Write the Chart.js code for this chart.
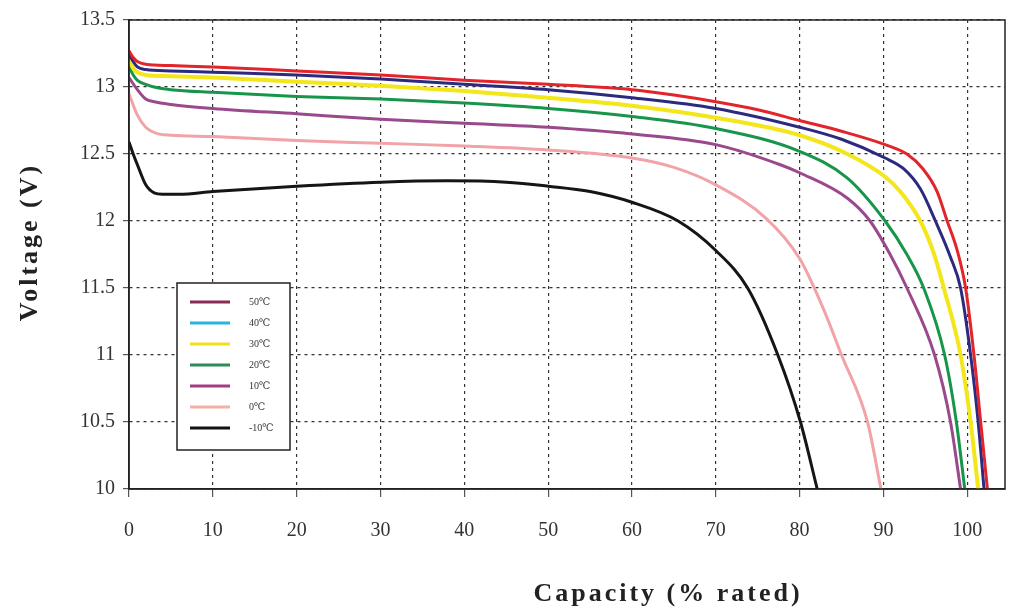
<!DOCTYPE html>
<html>
<head>
<meta charset="utf-8">
<script src="https://cdn.jsdelivr.net/npm/chart.js@4.4.0/dist/chart.umd.min.js"></script>
<style>
  html, body { margin: 0; padding: 0; background: #fff; }
  #wrap { width: 1014px; height: 615px; }
</style>
</head>
<body>
<div id="wrap"><canvas id="myChart"></canvas></div>
<script>
// series labels (legend order)
var labels = ["50℃", "40℃", "30℃", "20℃", "10℃", "0℃", "-10℃"];

// capacity (% rated) / voltage (V)
var cap50 = [0, 0.5, 1, 2, 5, 10, 20, 30, 40, 50, 60, 65, 70, 75, 80, 85, 90.2, 92.8, 94.7, 96.4, 97.6, 98.8, 99.8, 100.8, 101.6, 102.4];
var volt50 = [13.27, 13.22, 13.19, 13.17, 13.16, 13.15, 13.12, 13.09, 13.05, 13.02, 12.98, 12.94, 12.89, 12.83, 12.75, 12.67, 12.57, 12.5, 12.39, 12.22, 12.0, 11.78, 11.5, 11.0, 10.5, 10.0];

var cap40 = [0, 0.5, 1, 2, 5, 10, 20, 30, 40, 50, 60, 70, 80, 85, 90.2, 92.4, 94.4, 96.2, 98, 99.2, 100.4, 101.3, 102];
var volt40 = [13.25, 13.19, 13.15, 13.13, 13.12, 13.11, 13.09, 13.06, 13.02, 12.98, 12.92, 12.84, 12.70, 12.61, 12.47, 12.39, 12.24, 12.0, 11.73, 11.5, 11.0, 10.5, 10.0];

var cap30 = [0, 0.5, 1, 2, 5, 10, 20, 30, 40, 50, 60, 70, 80, 85.7, 90.2, 92, 94.4, 96, 97.2, 99.2, 100.4, 101.3];
var volt30 = [13.2, 13.14, 13.11, 13.09, 13.08, 13.07, 13.04, 13.01, 12.97, 12.92, 12.86, 12.77, 12.64, 12.5, 12.33, 12.22, 12.0, 11.76, 11.5, 11.0, 10.5, 10.0];

var cap20 = [0, 0.5, 1, 2, 3, 5, 10, 20, 30, 40, 50, 60, 70, 80, 85.7, 90.2, 92.8, 94.8, 97.3, 98.7, 99.7];
var volt20 = [13.15, 13.09, 13.05, 13.02, 13.0, 12.98, 12.96, 12.93, 12.91, 12.88, 12.84, 12.78, 12.69, 12.52, 12.32, 12.0, 11.75, 11.5, 11.0, 10.5, 10.0];

var cap10 = [0, 1, 2, 3, 5, 10, 20, 30, 40, 50, 60, 70, 77.7, 80, 85.7, 88.4, 90.8, 92.8, 96.1, 98, 99.2];
var volt10 = [13.07, 12.98, 12.91, 12.89, 12.87, 12.84, 12.80, 12.76, 12.73, 12.70, 12.65, 12.57, 12.42, 12.36, 12.17, 12.0, 11.75, 11.5, 11.0, 10.5, 10.0];

var cap0 = [0, 1, 2, 3.5, 5, 10, 20, 30, 40, 50, 60, 65, 70, 76, 80, 82.8, 85.0, 88.1, 89.7];
var volt0 = [12.95, 12.79, 12.70, 12.65, 12.64, 12.63, 12.60, 12.58, 12.56, 12.53, 12.47, 12.40, 12.27, 12.02, 11.72, 11.35, 11.0, 10.5, 10.0];

var capM10 = [0, 0.5, 1, 2, 3, 4, 6, 10, 20, 30, 38, 45, 50, 55, 60, 65.5, 70, 73.8, 77.4, 80.1, 82.1];
var voltM10 = [12.59, 12.5, 12.42, 12.27, 12.21, 12.2, 12.2, 12.22, 12.26, 12.29, 12.30, 12.29, 12.26, 12.22, 12.14, 12.0, 11.78, 11.5, 11.0, 10.5, 10.0];

// axis ticks
var xTicks = [0, 10, 20, 30, 40, 50, 60, 70, 80, 90, 100];
var yTicks = [10, 10.5, 11, 11.5, 12, 12.5, 13, 13.5];

var caps = [cap50, cap40, cap30, cap20, cap10, cap0, capM10];
var volts = [volt50, volt40, volt30, volt20, volt10, volt0, voltM10];
var lineColors = ["#e2252b", "#2c2a7e", "#f3e61a", "#17964b", "#9a4a8c", "#f1a3a7", "#151515"];
var legendColors = ["#8a2a55", "#2ab3e0", "#f0e01a", "#2f8a5c", "#a33c86", "#f3b0a8", "#111111"];
var lineWidths = [3, 3, 4, 3, 3, 3, 3];

var datasets = labels.map(function (lab, i) {
  return {
    label: lab,
    data: caps[i].map(function (c, j) { return { x: c, y: volts[i][j] }; }),
    borderColor: lineColors[i],
    backgroundColor: lineColors[i],
    borderWidth: lineWidths[i],
    pointRadius: 0,
    cubicInterpolationMode: 'monotone',
    fill: false
  };
});

var serif = "'Liberation Serif', 'DejaVu Serif', serif";

var framePlugin = {
  id: 'frame',
  afterDraw: function (chart) {
    var ctx = chart.ctx, a = chart.chartArea;
    ctx.save();
    // plot border
    ctx.strokeStyle = '#222';
    ctx.lineWidth = 1.5;
    ctx.strokeRect(a.left, a.top, a.right - a.left, a.bottom - a.top);

    // legend box inside the plot
    var bx = 177, by = 283, bw = 113, bh = 167;
    ctx.fillStyle = '#fff';
    ctx.fillRect(bx, by, bw, bh);
    ctx.strokeStyle = '#222';
    ctx.lineWidth = 1.5;
    ctx.strokeRect(bx, by, bw, bh);
    ctx.font = "10px " + serif;
    ctx.textBaseline = 'middle';
    for (var i = 0; i < labels.length; i++) {
      var yy = by + 19 + i * 21;
      ctx.strokeStyle = legendColors[i];
      ctx.lineWidth = 3;
      ctx.beginPath();
      ctx.moveTo(bx + 13, yy);
      ctx.lineTo(bx + 53, yy);
      ctx.stroke();
      ctx.fillStyle = '#333';
      ctx.fillText(labels[i], bx + 72, yy);
    }

    // axis titles
    ctx.fillStyle = '#222';
    ctx.font = "bold 26px " + serif;
    ctx.letterSpacing = '3px';
    ctx.textAlign = 'center';
    ctx.textBaseline = 'middle';
    ctx.fillText('Capacity (% rated)', 668, 594);
    ctx.translate(30, 242);
    ctx.rotate(-Math.PI / 2);
    ctx.fillText('Voltage (V)', 0, 0);
    ctx.restore();
  }
};

var ctx = document.getElementById("myChart").getContext('2d');
var myChart = new Chart(ctx, {
  type: 'line',
  data: { datasets: datasets },
  options: {
    responsive: true,
    maintainAspectRatio: false,
    animation: false,
    layout: { padding: { left: 0, right: 9, top: 18, bottom: 0 } },
    plugins: {
      legend: { display: false },
      tooltip: { enabled: false }
    },
    scales: {
      x: {
        type: 'linear',
        min: 0,
        max: 104.5,
        afterBuildTicks: function (s) {
          s.ticks = xTicks.map(function (v) { return { value: v }; });
        },
        afterFit: function (s) { s.height = 126; },
        grid: { color: '#333', lineWidth: 1.2, tickLength: 8, tickColor: '#555' },
        border: { display: true, color: '#222', width: 1.5, dash: [3, 4] },
        ticks: {
          color: '#333',
          padding: 22,
          maxRotation: 0,
          font: { family: serif, size: 20 },
          callback: function (v) { return String(v); }
        }
      },
      y: {
        type: 'linear',
        min: 10,
        max: 13.5,
        afterBuildTicks: function (s) {
          s.ticks = yTicks.map(function (v) { return { value: v }; });
        },
        afterFit: function (s) { s.width = 129; },
        grid: { color: '#333', lineWidth: 1.2, tickLength: 6, tickColor: '#555' },
        border: { display: true, color: '#222', width: 1.5, dash: [3, 4] },
        ticks: {
          color: '#333',
          padding: 8,
          font: { family: serif, size: 20 },
          callback: function (v) { return String(v); }
        }
      }
    }
  },
  plugins: [framePlugin]
});
</script>
</body>
</html>
